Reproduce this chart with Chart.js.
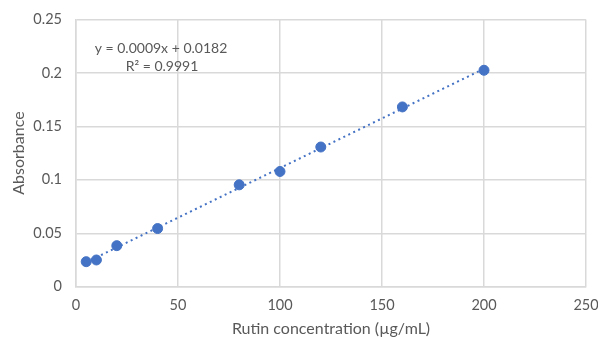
<!DOCTYPE html>
<html>
<head>
<meta charset="utf-8">
<script src="https://cdn.jsdelivr.net/npm/chart.js@4"></script>
<style>
html,body{margin:0;padding:0;background:#fff;}
#wrap{width:598px;height:338px;}
</style>
</head>
<body>
<div id="wrap"><canvas id="c" width="598" height="338"></canvas></div>
<script>
const concentrations = [5, 10, 20, 40, 80, 100, 120, 160, 200];
const absorbance = [0.0234, 0.025, 0.0384, 0.0544, 0.0953, 0.1078, 0.1307, 0.1682, 0.2025];
const trendX = [5, 200];
const trendY = [0.0228, 0.2039];
const equationLines = ['y = 0.0009x + 0.0182', 'R² = 0.9991'];
const xTitle = 'Rutin concentration (µg/mL)';
const yTitle = 'Absorbance';

const FONT = 'Lato, "Open Sans", sans-serif';
const GRAY = '#595959';
const GRID = '#d9d9d9';
const BLUE = '#4472C4';

const eqPlugin = {
  id: 'eq',
  afterDatasetsDraw(chart) {
    const ctx = chart.ctx;
    ctx.save();
    ctx.fillStyle = GRAY;
    ctx.font = '14px ' + FONT;
    ctx.textBaseline = 'middle';
    ctx.textAlign = 'center';
    ctx.fillText(equationLines[0], 161, 48);
    ctx.fillText(equationLines[1], 162, 66);
    ctx.restore();
  }
};

new Chart(document.getElementById('c'), {
  type: 'scatter',
  data: {
    datasets: [
      {
        label: 'Trend',
        data: trendX.map((x, i) => ({x, y: trendY[i]})),
        showLine: true,
        borderColor: BLUE,
        borderWidth: 2,
        borderDash: [2, 3.5],
        pointRadius: 0,
        fill: false,
        order: 2
      },
      {
        label: 'Absorbance',
        data: concentrations.map((x, i) => ({x, y: absorbance[i]})),
        backgroundColor: BLUE,
        borderColor: BLUE,
        pointRadius: 5,
        pointHoverRadius: 5,
        order: 1
      }
    ]
  },
  options: {
    responsive: false,
    animation: false,
    events: [],
    layout: {padding: {top: 19.5, right: 12, left: 0, bottom: 0}},
    plugins: {legend: {display: false}, tooltip: {enabled: false}},
    scales: {
      x: {
        type: 'linear',
        min: 0, max: 250,
        ticks: {stepSize: 50, color: GRAY, font: {family: FONT, size: 14.5}, padding: 10},
        grid: {color: GRID, lineWidth: 1.5, drawTicks: false},
        border: {color: GRID, width: 1.5},
        title: {display: true, text: xTitle, color: GRAY, font: {family: FONT, size: 16}, padding: {top: 3, bottom: 0}},
        afterFit(s) { s.height = 51.3; s.paddingLeft = 0; s.paddingRight = 0; }
      },
      y: {
        min: 0, max: 0.25,
        ticks: {stepSize: 0.05, color: GRAY, font: {family: FONT, size: 14.5}, padding: 14,
          callback: v => String(Math.round(v * 100) / 100)},
        grid: {color: GRID, lineWidth: 1.5, drawTicks: false},
        border: {color: GRID, width: 1.5},
        title: {display: true, text: yTitle, color: GRAY, font: {family: FONT, size: 16}, padding: {top: 9, bottom: 0}},
        afterFit(s) { s.width = 76; s.paddingTop = 0; s.paddingBottom = 0; }
      }
    }
  },
  plugins: [eqPlugin]
});
</script>
</body>
</html>
